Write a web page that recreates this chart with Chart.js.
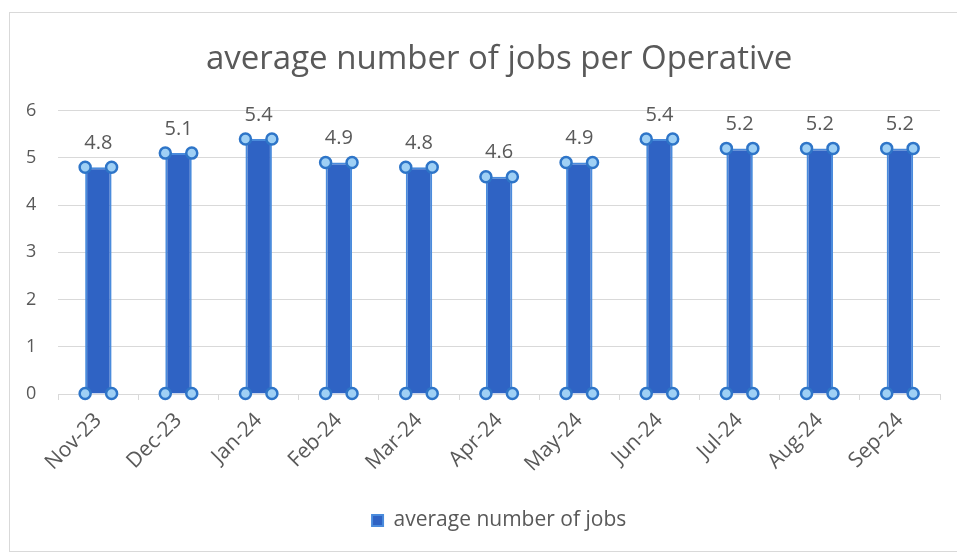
<!DOCTYPE html>
<html>
<head>
<meta charset="utf-8">
<script src="https://cdn.jsdelivr.net/npm/chart.js@4.4.1/dist/chart.umd.min.js"></script>
<style>
  html, body { margin: 0; padding: 0; background: #fff; }
  #wrap { position: relative; width: 957px; height: 556px; overflow: hidden; }
  #frame { position: absolute; left: 9px; top: 12px; width: 960px; height: 540px; border: 1px solid #d9d9d9; box-sizing: border-box; }
  canvas { position: absolute; left: 0; top: 0; }
</style>
</head>
<body>
<div id="wrap">
  <div id="frame"></div>
  <canvas id="jobsChart" width="957" height="556"></canvas>
</div>
<script>
// chart data
const months = ['Nov-23', 'Dec-23', 'Jan-24', 'Feb-24', 'Mar-24', 'Apr-24', 'May-24', 'Jun-24', 'Jul-24', 'Aug-24', 'Sep-24'];
const avgJobs = [4.8, 5.1, 5.4, 4.9, 4.8, 4.6, 4.9, 5.4, 5.2, 5.2, 5.2];
const yTicks = [0, 1, 2, 3, 4, 5, 6];

const fontFamily = "'Open Sans', sans-serif";
const textGrey = '#595959';

// value labels above each bar
const valueLabels = {
    id: 'valueLabels',
    afterDatasetsDraw(chart) {
        const ctx = chart.ctx;
        const meta = chart.getDatasetMeta(0);
        ctx.save();
        ctx.font = '20px ' + fontFamily;
        ctx.fillStyle = textGrey;
        ctx.textAlign = 'center';
        ctx.textBaseline = 'middle';
        meta.data.forEach((bar, i) => {
            ctx.fillText(avgJobs[i].toFixed(1), bar.x, bar.y - 24);
        });
        ctx.restore();
    }
};

// little selection handles on the bar corners
const cornerHandles = {
    id: 'cornerHandles',
    afterDatasetsDraw(chart) {
        const ctx = chart.ctx;
        const meta = chart.getDatasetMeta(0);
        ctx.save();
        ctx.lineWidth = 2.5;
        ctx.strokeStyle = '#2e75c8';
        ctx.fillStyle = '#9fd0f5';
        meta.data.forEach(bar => {
            const half = bar.width / 2;
            [[bar.x - half, bar.y], [bar.x + half, bar.y], [bar.x - half, bar.base], [bar.x + half, bar.base]].forEach(p => {
                ctx.beginPath();
                ctx.arc(p[0], p[1], 5.5, 0, Math.PI * 2);
                ctx.fill();
                ctx.stroke();
            });
        });
        ctx.restore();
    }
};

const ctx = document.getElementById('jobsChart');
new Chart(ctx, {
    type: 'bar',
    data: {
        labels: months,
        datasets: [{
            label: 'average number of jobs',
            data: avgJobs,
            backgroundColor: '#2f63c4',
            borderColor: '#4a8bdc',
            borderWidth: 2,
            barPercentage: 0.33,
            categoryPercentage: 1.0
        }]
    },
    options: {
        responsive: false,
        animation: false,
        layout: {
            padding: { left: 4, right: 17, top: 40, bottom: 15 }
        },
        plugins: {
            title: {
                display: true,
                fullSize: false,
                text: 'average number of jobs per Operative',
                color: textGrey,
                font: { family: fontFamily, size: 33, weight: 'normal' },
                padding: { top: 0, bottom: 31 }
            },
            legend: {
                position: 'bottom',
                fullSize: false,
                labels: {
                    color: textGrey,
                    boxWidth: 11,
                    boxHeight: 11,
                    padding: 13,
                    font: { family: fontFamily, size: 21 }
                }
            },
            tooltip: { enabled: false }
        },
        scales: {
            y: {
                min: 0,
                max: 6,
                afterBuildTicks(axis) {
                    axis.ticks = yTicks.map(v => ({ value: v }));
                },
                grid: {
                    color: '#d9d9d9',
                    drawTicks: false
                },
                border: { display: false },
                ticks: {
                    color: textGrey,
                    padding: 22,
                    font: { family: fontFamily, size: 18 }
                }
            },
            x: {
                afterFit(axis) {
                    axis.height = 103;
                },
                grid: {
                    offset: true,
                    drawOnChartArea: false,
                    color: '#d9d9d9',
                    tickLength: 6
                },
                border: { color: '#d9d9d9' },
                ticks: {
                    color: textGrey,
                    minRotation: 45,
                    maxRotation: 45,
                    padding: 8,
                    font: { family: fontFamily, size: 21 }
                }
            }
        }
    },
    plugins: [valueLabels, cornerHandles]
});
</script>
</body>
</html>
